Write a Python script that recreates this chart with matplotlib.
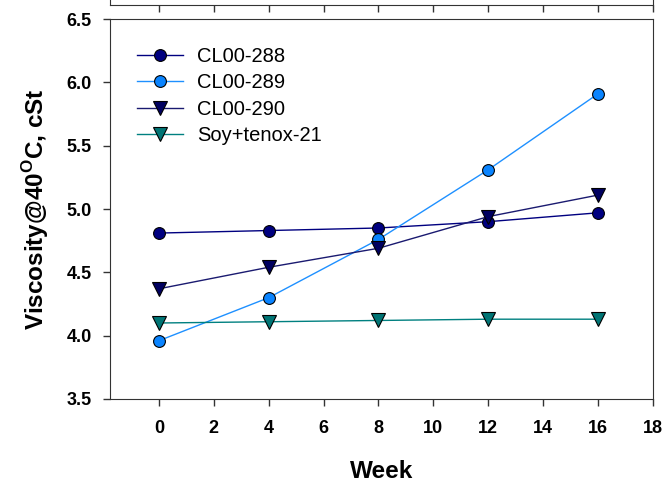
import numpy as np
import matplotlib
matplotlib.use('Agg')
from matplotlib import pyplot as plt

plt.rcParams['font.family'] = ['Liberation Sans', 'DejaVu Sans']
plt.rcParams['mathtext.fontset'] = 'custom'
plt.rcParams['mathtext.rm'] = 'Liberation Sans:bold'
plt.rcParams['mathtext.bf'] = 'Liberation Sans:bold'

# Datos
weeks = [0, 4, 8, 12, 16]
cl288 = [4.81, 4.83, 4.85, 4.90, 4.97]
cl289 = [3.96, 4.30, 4.76, 5.31, 5.91]
cl290 = [4.37, 4.54, 4.69, 4.94, 5.11]
soy = [4.10, 4.11, 4.12, 4.13, 4.13]

x_ticks = [0, 2, 4, 6, 8, 10, 12, 14, 16, 18]
y_ticks = [3.5, 4.0, 4.5, 5.0, 5.5, 6.0, 6.5]

W, H = 669, 483
fig = plt.figure(figsize=(W / 100, H / 100), dpi=100)

left, right = 110 / W, 653 / W
bottom, top = 1 - 399 / H, 1 - 19 / H

# Marco del gráfico de arriba (cortado)
ax_top = fig.add_axes([left, 1 - 5 / H, right - left, 0.5])
ax_top.set_xlim(-1.78, 18)
ax_top.set_xticks(x_ticks)
ax_top.set_xticklabels([])
ax_top.set_yticks([])
ax_top.tick_params(axis='x', direction='out', length=5, width=1, color='#333333')
for s in ax_top.spines.values():
    s.set_color('#333333')

ax = fig.add_axes([left, bottom, right - left, top - bottom])

ax.plot(weeks, cl288, color='#000080', lw=1, marker='o', ms=8.5,
        mfc='#000080', mec='black', mew=0.8, label='CL00-288')
ax.plot(weeks, cl289, color='#1e90ff', lw=1, marker='o', ms=8.5,
        mfc='#0a84ff', mec='black', mew=0.8, label='CL00-289')
ax.plot(weeks, cl290, color='#1a1a70', lw=1, marker='v', ms=9.5,
        mfc='#000060', mec='black', mew=0.8, label='CL00-290')
ax.plot(weeks, soy, color='#008080', lw=1, marker='v', ms=9.5,
        mfc='#007575', mec='black', mew=0.8, label='Soy+tenox-21')

ax.set_xlim(-1.78, 18)
ax.set_ylim(3.5, 6.5)
ax.set_xticks(x_ticks)
ax.set_yticks(y_ticks)
ax.set_yticklabels([f'{v:.1f}' for v in y_ticks])
ax.tick_params(direction='out', length=5, width=1, color='#333333',
               labelsize=13)
for lab in ax.get_xticklabels() + ax.get_yticklabels():
    lab.set_fontweight('bold')
ax.tick_params(axis='x', pad=10)
ax.tick_params(axis='y', pad=8)
for s in ax.spines.values():
    s.set_color('#333333')

ax.set_xlabel('Week', fontsize=17.5, fontweight='bold', labelpad=17)
ax.set_ylabel(r'Viscosity@40$^{\mathrm{O}}$C, cSt', fontsize=17.5,
              fontweight='bold', labelpad=11)

ax.legend(loc='upper left', bbox_to_anchor=(0.035, 0.948), frameon=False,
          fontsize=14.5, handlelength=2.3, handletextpad=0.68,
          labelspacing=0.37, borderaxespad=0)

fig.savefig('out.png', dpi=100)
